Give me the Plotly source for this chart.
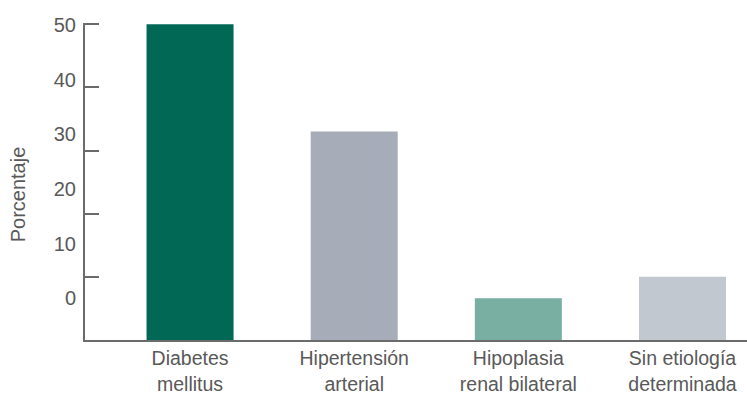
import plotly.graph_objects as go

categories = ["Diabetes<br>mellitus", "Hipertensión<br>arterial", "Hipoplasia<br>renal bilateral", "Sin etiología<br>determinada"]
values = [50, 33, 6.6, 10]
colors = ["#006855", "#a6adb8", "#79aea3", "#c1c8d0"]
y_ticks = [0, 10, 20, 30, 40, 50]
y_tick_labels = ["0", "10", "20", "30", "40", "50"]

text_color = "#595959"
axis_color = "#6b6b6b"

fig = go.Figure()
fig.add_trace(go.Bar(
    x=list(range(len(categories))), y=values, marker=dict(color=colors, line=dict(width=0)),
    width=0.53, hoverinfo="skip", showlegend=False,
))
# invisible helper trace so the label axis (y2) is rendered
fig.add_trace(go.Scatter(
    x=[0], y=[y_ticks[0]], yaxis="y2", mode="markers",
    marker=dict(opacity=0), hoverinfo="skip", showlegend=False,
))

fig.update_layout(
    width=747, height=397,
    margin=dict(l=85, r=0, t=23, b=57),
    plot_bgcolor="white", paper_bgcolor="white",
    font=dict(family="Liberation Sans, Arial, sans-serif", color=text_color),
    xaxis=dict(
        range=[-0.640, 3.393],
        tickmode="array", tickvals=list(range(len(categories))), ticktext=categories,
        tickfont=dict(size=19.5, color=text_color),
        showline=True, linecolor=axis_color, linewidth=2,
        ticks="", showgrid=False, zeroline=False,
    ),
    yaxis=dict(
        range=[0, 50.2],
        tickvals=y_ticks[1:], showticklabels=False,
        ticks="inside", ticklen=14, tickwidth=1.5, tickcolor=axis_color,
        showline=True, linecolor=axis_color, linewidth=2,
        showgrid=False, zeroline=False,
    ),
    yaxis2=dict(
        overlaying="y", side="left", anchor="x",
        range=[-7.62, 50.37],
        tickvals=y_ticks, ticktext=y_tick_labels,
        tickfont=dict(size=20, color=text_color),
        ticks="", showline=False, showgrid=False, zeroline=False,
        ticklabelstandoff=8,
    ),
    annotations=[dict(
        text="Porcentaje", textangle=-90, showarrow=False,
        xref="paper", yref="paper", x=-0.101, y=0.46,
        xanchor="center", yanchor="middle",
        font=dict(size=20, color=text_color),
    )],
)

fig.write_html("out.html")
